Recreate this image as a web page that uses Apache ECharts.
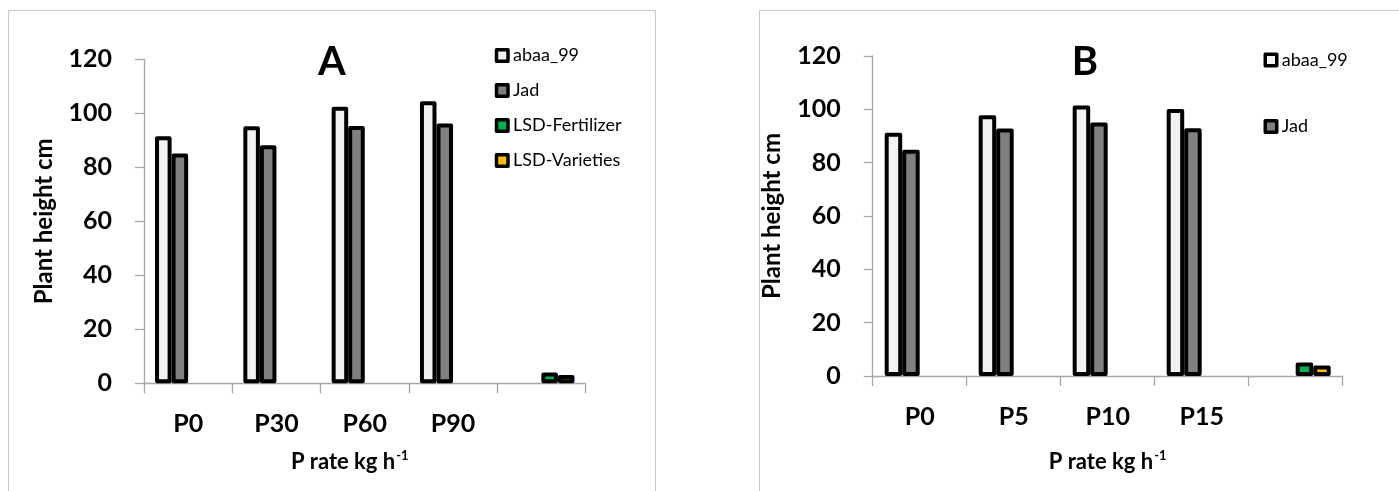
<!DOCTYPE html>
<html>
<head>
<meta charset="utf-8">
<script src="https://cdn.jsdelivr.net/npm/echarts@6/dist/echarts.min.js"></script>
<style>
html,body{margin:0;padding:0;background:#fff;}
#c{width:1399px;height:491px;}
</style>
</head>
<body>
<div id="c"></div>
<script>
// ---- data ----
const categoriesA = ['P0', 'P30', 'P60', 'P90', ''];
const abaaA = [91.5, 95.2, 102.4, 104.5, null];
const jadA = [85.1, 88.2, 95.3, 96.2, null];
const lsdFertA = [null, null, null, null, 4.0];
const lsdVarA = [null, null, null, null, 3.1];

const categoriesB = ['P0', 'P5', 'P10', 'P15', ''];
const abaaB = [91.2, 97.8, 101.4, 100.1, null];
const jadB = [84.8, 92.8, 95.1, 92.9, null];
const lsdFertB = [null, null, null, null, 5.1];
const lsdVarB = [null, null, null, null, 3.9];

const seriesNames = ['abaa_99', 'Jad', 'LSD-Fertilizer', 'LSD-Varieties'];
const legendA = ['abaa_99', 'Jad', 'LSD-Fertilizer', 'LSD-Varieties'];
const legendB = ['abaa_99', 'Jad'];
const yMin = 0, yMax = 120, yStep = 20;
const titleA = 'A', titleB = 'B';
const yName = 'Plant height cm';

// ---- styles ----
const colors = ['#F2F2F2', '#808080', '#00B050', '#FFC000'];
const axisGray = '#A6A6A6';
const F = 'Lato';

function yAxis(gi) {
  return {
    type: 'value', gridIndex: gi, min: yMin, max: yMax, interval: yStep,
    name: yName, nameLocation: 'middle', nameRotate: 90, nameGap: 88,
    nameTextStyle: {fontFamily: F, fontWeight: 'bold', fontSize: 24, color: '#000'},
    axisLine: {show: true, lineStyle: {color: axisGray, width: 1.3}},
    axisTick: {show: true, length: 9, lineStyle: {color: axisGray, width: 1.3}},
    axisLabel: {fontFamily: F, fontWeight: 'bold', fontSize: 25, color: '#000', margin: 32},
    splitLine: {show: false}
  };
}
function xAxis(gi, cats, gap, pad) {
  return {
    type: 'category', gridIndex: gi, data: cats,
    name: '{a|P rate kg h}{s|-1}', nameLocation: 'middle', nameGap: gap,
    nameTextStyle: {
      padding: pad,
      rich: {
        a: {fontFamily: F, fontWeight: 'bold', fontSize: 22, color: '#000', lineHeight: 26},
        s: {fontFamily: F, fontWeight: 'bold', fontSize: 13, color: '#000', lineHeight: 26, verticalAlign: 'top', padding: [0, 0, 10, 1]}
      }
    },
    axisLine: {show: true, lineStyle: {color: axisGray, width: 1.3}},
    axisTick: {show: true, interval: 0, length: 10, alignWithLabel: false, lineStyle: {color: axisGray, width: 1.3}},
    axisLabel: {interval: 0, fontFamily: F, fontWeight: 'bold', fontSize: 25, color: '#000', margin: 26, lineHeight: 30},
    splitLine: {show: false}
  };
}
function bars(gi, arrs, gap) {
  return arrs.map((d, i) => ({
    type: 'bar', name: seriesNames[i], xAxisIndex: gi, yAxisIndex: gi, data: d,
    barGap: '0%', barCategoryGap: gap,
    itemStyle: {color: colors[i], borderColor: '#000', borderWidth: 4, borderJoin: 'round'},
    emphasis: {disabled: true}, animation: false
  }));
}
function legend(data, left, top, gap) {
  return {
    data: data, orient: 'vertical', left: left, top: top, itemGap: gap,
    icon: 'rect', itemWidth: 11.5, itemHeight: 11.5,
    itemStyle: {borderColor: '#000', borderWidth: 3.5},
    textStyle: {fontFamily: F, fontSize: 18, color: '#000', lineHeight: 20},
    selectedMode: false
  };
}

const chart = echarts.init(document.getElementById('c'), null, {renderer: 'canvas'});
chart.setOption({
  animation: false,
  grid: [
    {left: 144, top: 59.3, width: 441.5, height: 324},
    {left: 872.7, top: 56, width: 470, height: 320}
  ],
  xAxis: [xAxis(0, categoriesA, 66, [0, 30, 0, 0]), xAxis(1, categoriesB, 73, [0, 0, 0, 0])],
  yAxis: [yAxis(0), yAxis(1)],
  legend: [legend(legendA, 489.75, 40.5, 15), legend(legendB, 1258.5, 45, 46.5)],
  series: [].concat(
    bars(0, [abaaA, jadA, lsdFertA, lsdVarA], '25%'),
    bars(1, [abaaB, jadB, lsdFertB, lsdVarB], '25.5%')
  ),
  graphic: [
    {type: 'rect', shape: {x: 8.5, y: 10.5, width: 647, height: 520}, style: {fill: 'none', stroke: '#C8C8C8', lineWidth: 1}, silent: true},
    {type: 'rect', shape: {x: 759.5, y: 10.5, width: 700, height: 520}, style: {fill: 'none', stroke: '#C8C8C8', lineWidth: 1}, silent: true},
    {type: 'text', x: 332, y: 62, style: {text: titleA, font: 'bold 40px Lato', fill: '#000', align: 'center', verticalAlign: 'middle'}, silent: true},
    {type: 'text', x: 1085, y: 62, style: {text: titleB, font: 'bold 40px Lato', fill: '#000', align: 'center', verticalAlign: 'middle'}, silent: true}
  ]
});
</script>
</body>
</html>
